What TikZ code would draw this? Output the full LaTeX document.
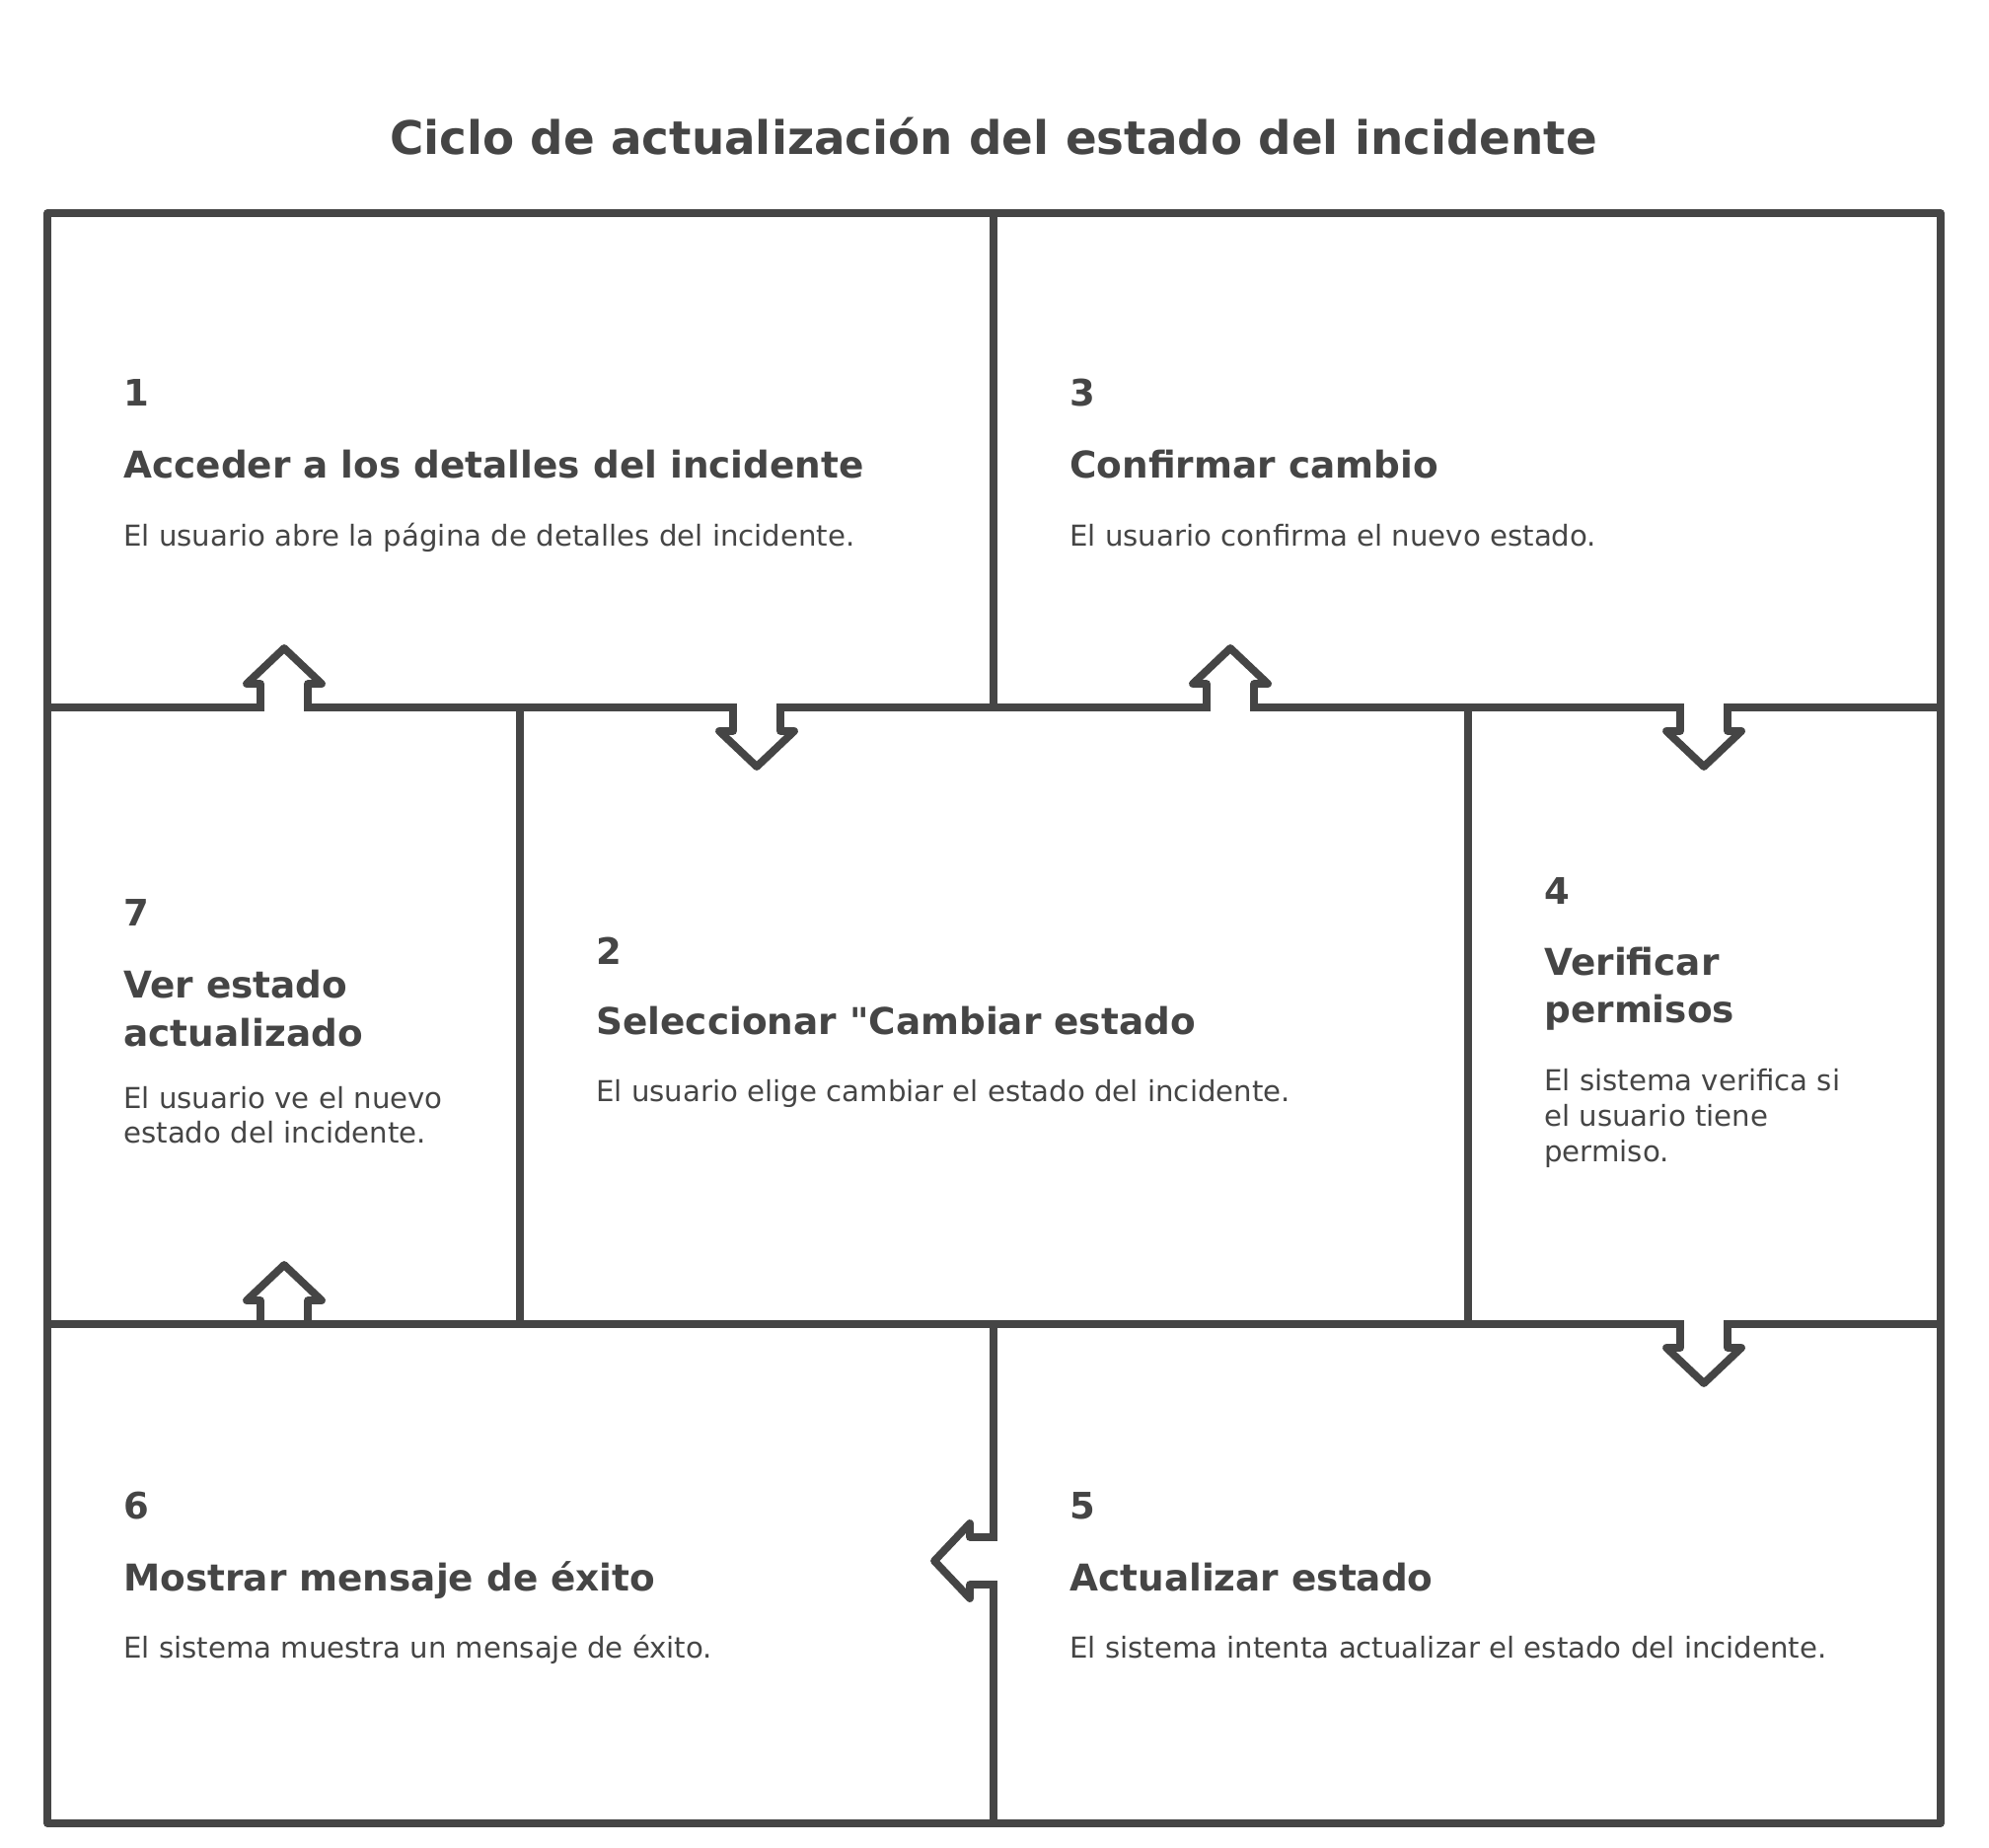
\documentclass[tikz,border=0pt]{standalone}
\usepackage{fontspec}
\setmainfont{DejaVu Sans}
\usetikzlibrary{fit}
\definecolor{ink}{HTML}{454545}
\newcommand{\plainquote}{\XeTeXglyph\XeTeXcharglyph"22\relax}
\tikzset{
  panel/.style={draw=ink, line width=3.8pt, inner sep=0pt, outer sep=0pt, line join=round},
  arrowline/.style={draw=ink, line width=3.9pt, line join=round, line cap=round},
  titletxt/.style={anchor=base, inner sep=0pt, text=ink, font=\fontsize{23.4}{28}\selectfont\bfseries},
  numtxt/.style={anchor=base west, inner sep=0pt, text=ink, font=\fontsize{18.5}{22}\selectfont\bfseries},
  headtxt/.style={anchor=base west, inner sep=0pt, text=ink, font=\fontsize{18.7}{22}\selectfont\bfseries},
  bodytxt/.style={anchor=base west, inner sep=0pt, text=ink, font=\fontsize{14.6}{17}\selectfont},
}
\newcommand{\notcharrow}[3]{%
  \begin{scope}[shift={(#1)}, rotate=#2]
    \ifnum#3=1 \fill[white] (-20,-5) rectangle (20,5);\fi
    \draw[arrowline] (-24,0) -- (-24,-24) -- (-38,-24) -- (0,-60) -- (38,-24) -- (24,-24) -- (24,0);
  \end{scope}}
\begin{document}
\begin{tikzpicture}[x=0.5pt,y=-0.5pt]
\fill[white] (0,0) rectangle (2016,1872);
\useasboundingbox (0,0) rectangle (2016,1872);

\node[titletxt] (title) at (1007,157) {Ciclo de actualización del estado del incidente};

% panels
\node[panel, fit={(48,216) (1007,717)}] (b1) {};
\node[panel, fit={(1007,216) (1967,717)}] (b3) {};
\node[panel, fit={(48,717) (527,1342)}] (b7) {};
\node[panel, fit={(527,717) (1488,1342)}] (b2) {};
\node[panel, fit={(1488,717) (1967,1342)}] (b4) {};
\node[panel, fit={(48,1342) (1007,1848)}] (b6) {};
\node[panel, fit={(1007,1342) (1967,1848)}] (b5) {};

% box 1
\node[numtxt] (n1) at (125,411) {1};
\node[headtxt] (h1) at (125,484) {Acceder a los detalles del incidente};
\node[bodytxt] (d1) at (125,553) {El usuario abre la página de detalles del incidente.};
% box 3
\node[numtxt] (n3) at (1084,411) {3};
\node[headtxt] (h3) at (1084,484) {Confirmar cambio};
\node[bodytxt] (d3) at (1084,553) {El usuario confirma el nuevo estado.};
% box 7
\node[numtxt] (n7) at (125,938) {7};
\node[headtxt] (h7a) at (125,1011) {Ver estado};
\node[headtxt] (h7b) at (125,1060) {actualizado};
\node[bodytxt] (d7a) at (125,1123) {El usuario ve el nuevo};
\node[bodytxt] (d7b) at (125,1158) {estado del incidente.};
% box 2
\node[numtxt] (n2) at (604,977) {2};
\node[headtxt] (h2) at (604,1048) {Seleccionar \plainquote Cambiar estado};
\node[bodytxt] (d2) at (604,1116) {El usuario elige cambiar el estado del incidente.};
% box 4
\node[numtxt] (n4) at (1565,916) {4};
\node[headtxt] (h4a) at (1565,988) {Verificar};
\node[headtxt] (h4b) at (1565,1036) {permisos};
\node[bodytxt] (d4a) at (1565,1105) {El sistema verifica si};
\node[bodytxt] (d4b) at (1565,1141) {el usuario tiene};
\node[bodytxt] (d4c) at (1565,1177) {permiso.};
% box 6
\node[numtxt] (n6) at (125,1539) {6};
\node[headtxt] (h6) at (125,1612) {Mostrar mensaje de éxito};
\node[bodytxt] (d6) at (125,1680) {El sistema muestra un mensaje de éxito.};
% box 5
\node[numtxt] (n5) at (1084,1539) {5};
\node[headtxt] (h5) at (1084,1612) {Actualizar estado};
\node[bodytxt] (d5) at (1084,1680) {El sistema intenta actualizar el estado del incidente.};

% arrow junctions
\coordinate (j12) at (767,717);
\coordinate (j23) at (1247,717);
\coordinate (j34) at (1727,717);
\coordinate (j45) at (1727,1342);
\coordinate (j56) at (1007,1582);
\coordinate (j67) at (288,1342);
\coordinate (j71) at (288,717);

\notcharrow{j12}{180}{1}
\notcharrow{j23}{0}{1}
\notcharrow{j34}{180}{1}
\notcharrow{j45}{180}{1}
\notcharrow{j56}{90}{1}
\notcharrow{j67}{0}{0}
\notcharrow{j71}{0}{1}
\end{tikzpicture}
\end{document}
